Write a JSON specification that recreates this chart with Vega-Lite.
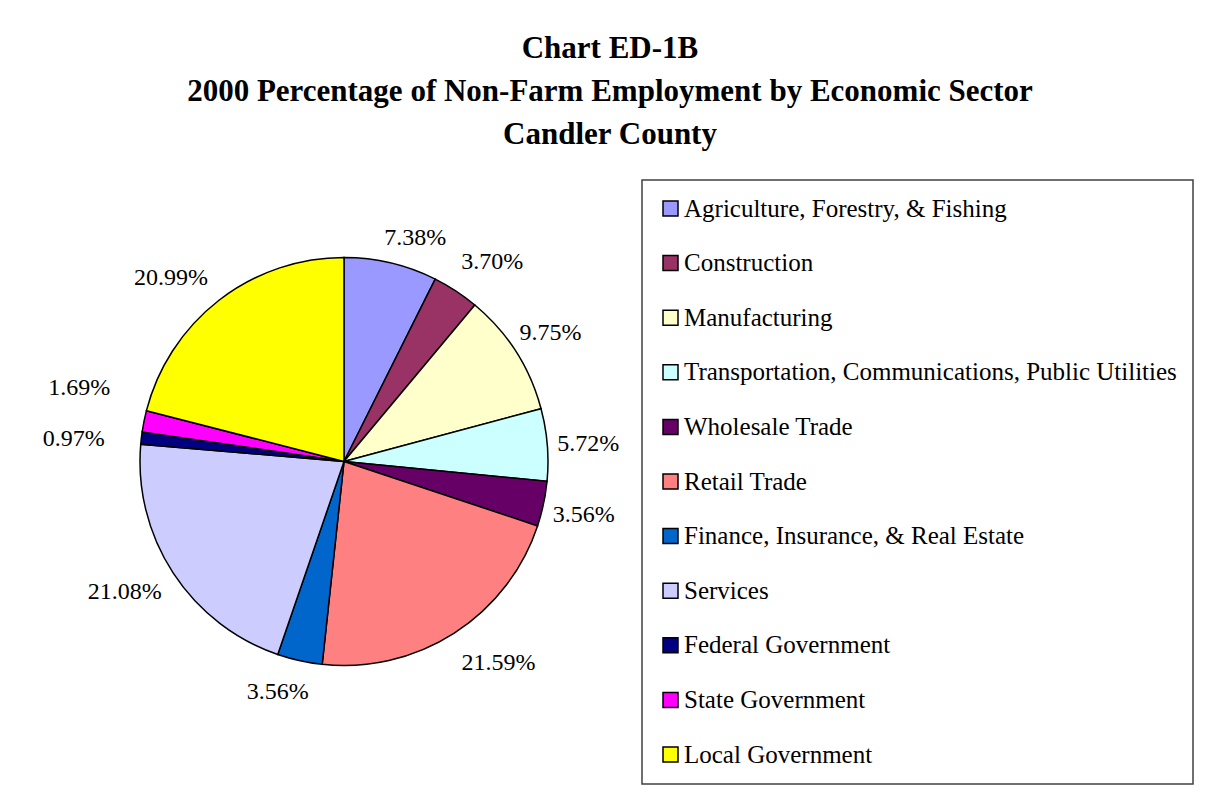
{
  "$schema": "https://vega.github.io/schema/vega-lite/v6.json",
  "width": 408,
  "height": 409,
  "autosize": {"type": "none"},
  "padding": {"left": 140, "top": 257, "right": 658, "bottom": 137},
  "background": "white",
  "config": {"view": {"stroke": null}},
  "title": {
    "text": ["Chart ED-1B", "2000 Percentage of Non-Farm Employment by Economic Sector", "Candler County"],
    "font": "Liberation Serif",
    "fontSize": 31,
    "fontWeight": "bold",
    "color": "black",
    "lineHeight": 43,
    "anchor": "middle",
    "frame": "group",
    "dx": 266,
    "offset": 16
  },
  "data": {
    "values": [
      {"sector": "Agriculture, Forestry, & Fishing", "pct": 7.38},
      {"sector": "Construction", "pct": 3.70},
      {"sector": "Manufacturing", "pct": 9.75},
      {"sector": "Transportation, Communications, Public Utilities", "pct": 5.72},
      {"sector": "Wholesale Trade", "pct": 3.56},
      {"sector": "Retail Trade", "pct": 21.59},
      {"sector": "Finance, Insurance, & Real Estate", "pct": 3.56},
      {"sector": "Services", "pct": 21.08},
      {"sector": "Federal Government", "pct": 0.97},
      {"sector": "State Government", "pct": 1.69},
      {"sector": "Local Government", "pct": 20.99}
    ]
  },
  "transform": [
    {"window": [{"op": "row_number", "as": "idx"}]},
    {"calculate": "format(datum.pct, '.2f') + '%'", "as": "label"}
  ],
  "encoding": {
    "theta": {"field": "pct", "type": "quantitative", "stack": true},
    "order": {"field": "idx", "type": "quantitative"}
  },
  "layer": [
    {
      "mark": {"type": "arc", "outerRadius": 204, "stroke": "black", "strokeWidth": 1.5},
      "encoding": {
        "color": {
          "field": "sector",
          "type": "nominal",
          "scale": {
            "domain": ["Agriculture, Forestry, & Fishing", "Construction", "Manufacturing", "Transportation, Communications, Public Utilities", "Wholesale Trade", "Retail Trade", "Finance, Insurance, & Real Estate", "Services", "Federal Government", "State Government", "Local Government"],
            "range": ["#9999FF", "#993366", "#FFFFCC", "#CCFFFF", "#660066", "#FF8080", "#0066CC", "#CCCCFF", "#000080", "#FF00FF", "#FFFF00"]
          },
          "legend": {
            "title": null,
            "orient": "none",
            "legendX": 502,
            "legendY": -77,
            "direction": "vertical",
            "symbolType": "square",
            "symbolSize": 225,
            "symbolStrokeColor": "black",
            "symbolStrokeWidth": 1.5,
            "symbolOpacity": 1,
            "labelFont": "Liberation Serif",
            "labelFontSize": 25,
            "labelColor": "black",
            "labelOffset": 1,
            "labelLimit": 1000,
            "rowPadding": 28.6,
            "padding": 16,
            "strokeColor": "#404040",
            "fillColor": "white",
            "encode": {"legend": {"update": {"strokeWidth": {"value": 1.5}}}}
          }
        }
      }
    },
    {
      "mark": {"type": "text", "radius": 245, "dy": 3, "font": "Liberation Serif", "fontSize": 24, "color": "black", "align": "center", "baseline": "middle"},
      "encoding": {
        "text": {"field": "label"},
        "opacity": {"condition": {"test": "indexof(['Manufacturing','Transportation, Communications, Public Utilities','Wholesale Trade'], datum.sector) >= 0", "value": 1}, "value": 0}
      }
    },
    {
      "mark": {"type": "text", "radius": 245, "dx": 15, "dy": 15, "font": "Liberation Serif", "fontSize": 24, "color": "black", "align": "center", "baseline": "middle"},
      "encoding": {
        "text": {"field": "label"},
        "opacity": {"condition": {"test": "datum.sector === 'Agriculture, Forestry, & Fishing'", "value": 1}, "value": 0}
      }
    },
    {
      "mark": {"type": "text", "radius": 245, "dx": 14, "dy": 5, "font": "Liberation Serif", "fontSize": 24, "color": "black", "align": "center", "baseline": "middle"},
      "encoding": {
        "text": {"field": "label"},
        "opacity": {"condition": {"test": "datum.sector === 'Construction'", "value": 1}, "value": 0}
      }
    },
    {
      "mark": {"type": "text", "radius": 245, "dx": 22, "dy": -5, "font": "Liberation Serif", "fontSize": 24, "color": "black", "align": "center", "baseline": "middle"},
      "encoding": {
        "text": {"field": "label"},
        "opacity": {"condition": {"test": "datum.sector === 'Retail Trade'", "value": 1}, "value": 0}
      }
    },
    {
      "mark": {"type": "text", "radius": 245, "dx": -13, "dy": -9, "font": "Liberation Serif", "fontSize": 24, "color": "black", "align": "center", "baseline": "middle"},
      "encoding": {
        "text": {"field": "label"},
        "opacity": {"condition": {"test": "datum.sector === 'Finance, Insurance, & Real Estate'", "value": 1}, "value": 0}
      }
    },
    {
      "mark": {"type": "text", "radius": 245, "dx": -14, "dy": -3, "font": "Liberation Serif", "fontSize": 24, "color": "black", "align": "center", "baseline": "middle"},
      "encoding": {
        "text": {"field": "label"},
        "opacity": {"condition": {"test": "datum.sector === 'Services'", "value": 1}, "value": 0}
      }
    },
    {
      "mark": {"type": "text", "radius": 245, "dx": -23, "dy": 10, "font": "Liberation Serif", "fontSize": 24, "color": "black", "align": "center", "baseline": "middle"},
      "encoding": {
        "text": {"field": "label"},
        "opacity": {"condition": {"test": "datum.sector === 'Local Government'", "value": 1}, "value": 0}
      }
    },
    {
      "mark": {"type": "text", "radius": 270, "dy": -20, "font": "Liberation Serif", "fontSize": 24, "color": "black", "align": "center", "baseline": "middle"},
      "encoding": {
        "text": {"field": "label"},
        "opacity": {"condition": {"test": "datum.sector === 'State Government'", "value": 1}, "value": 0}
      }
    },
    {
      "mark": {"type": "text", "radius": 272, "dy": 9, "font": "Liberation Serif", "fontSize": 24, "color": "black", "align": "center", "baseline": "middle"},
      "encoding": {
        "text": {"field": "label"},
        "opacity": {"condition": {"test": "datum.sector === 'Federal Government'", "value": 1}, "value": 0}
      }
    }
  ]
}
